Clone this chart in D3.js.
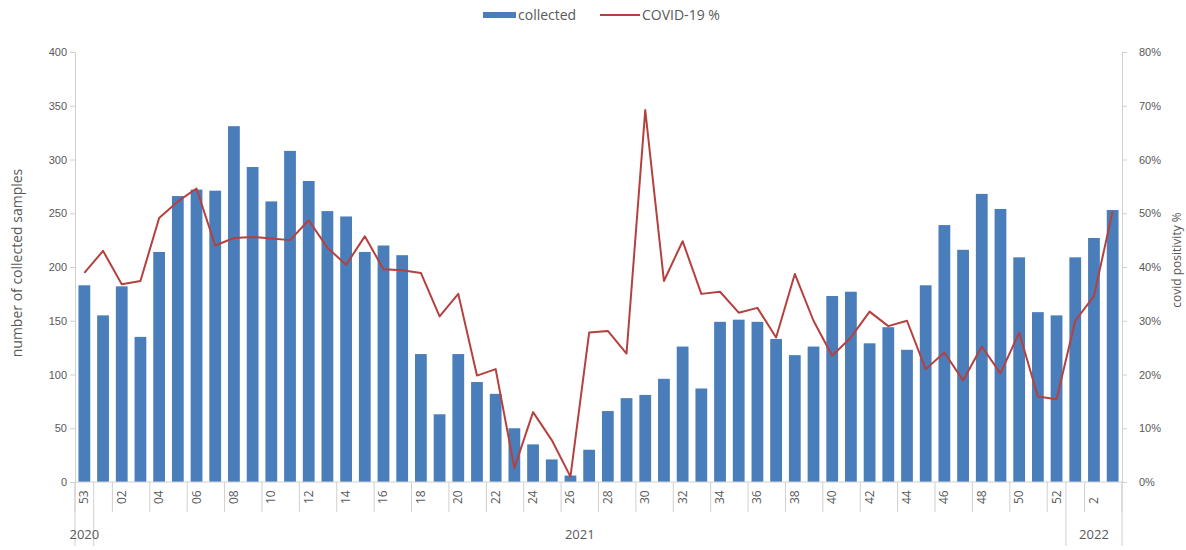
<!DOCTYPE html>
<html>
<head>
<meta charset="utf-8">
<script src="https://cdn.jsdelivr.net/npm/d3@7"></script>
<style>
  html, body { margin: 0; padding: 0; background: #fff; }
  svg { display: block; font-family: "Open Sans", "Liberation Sans", sans-serif; }
</style>
</head>
<body>
<svg id="chart" width="1186" height="550"></svg>
<script>
// ---- data ----
const years = ["2020", "2021", "2022"];
const weeks2020 = ["53"];
const weeks2021 = ["01","02","03","04","05","06","07","08","09","10","11","12","13","14","15","16","17","18","19","20","21","22","23","24","25","26","27","28","29","30","31","32","33","34","35","36","37","38","39","40","41","42","43","44","45","46","47","48","49","50","51","52"];
const weeks2022 = ["1","2","3"];
const collected = [183,155,182,135,214,266,272,271,331,293,261,308,280,252,247,214,220,211,119,63,119,93,82,50,35,21,6,30,66,78,81,96,126,87,149,151,149,133,118,126,173,177,129,144,123,183,239,216,268,254,209,158,155,209,227,253];
const positivity = [38.9,43,36.8,37.4,49.1,52.2,54.6,44,45.4,45.6,45.3,45,48.7,43.6,40.4,45.7,39.6,39.4,38.9,30.8,35,19.8,21,2.6,13,7.8,1,27.8,28.1,23.9,69.2,37.4,44.8,35,35.4,31.5,32.4,26.9,38.7,30,23.5,26.9,31.7,29,30,21,24.1,18.9,25.2,20.2,27.8,15.9,15.4,30,34.6,50.4];
const leftTicks = [0,50,100,150,200,250,300,350,400];
const rightTicks = [0,10,20,30,40,50,60,70,80];

// ---- build categories ----
const cats = [];
weeks2020.forEach(w => cats.push({year: "2020", week: w}));
weeks2021.forEach(w => cats.push({year: "2021", week: w}));
weeks2022.forEach(w => cats.push({year: "2022", week: w}));
cats.forEach((c, i) => { c.id = i; c.n = collected[i]; c.p = positivity[i]; });

const svg = d3.select("#chart");
const m = {left: 75, right: 1122, top: 52, bottom: 482};

const x = d3.scaleBand().domain(cats.map(c => c.id)).range([m.left, m.right]).paddingInner(0.37).paddingOuter(0.185);
const xc = id => x(id) + x.bandwidth() / 2;
const y = d3.scaleLinear().domain([0, 400]).range([m.bottom, m.top]);
const y2 = d3.scaleLinear().domain([0, 80]).range([m.bottom, m.top]);
const boundary = i => m.left + i * (m.right - m.left) / cats.length;

const axisColor = "#d0d0d0";
const textColor = "#595959";

// bars
svg.append("g").selectAll("rect").data(cats).join("rect")
  .attr("x", d => x(d.id)).attr("width", x.bandwidth())
  .attr("y", d => y(d.n)).attr("height", d => y(0) - y(d.n))
  .attr("fill", "#4a7ebb");

// line
const line = d3.line().x(d => xc(d.id)).y(d => y2(d.p));
svg.append("path").datum(cats).attr("d", line)
  .attr("fill", "none").attr("stroke", "#b5413f").attr("stroke-width", 2).attr("stroke-linejoin", "round");

// left axis
const gl = svg.append("g").attr("transform", `translate(${m.left},0)`)
  .call(d3.axisLeft(y).tickValues(leftTicks).tickSize(5).tickPadding(3));
gl.select(".domain").attr("stroke", axisColor);
gl.selectAll(".tick line").attr("stroke", axisColor);
gl.selectAll("text").attr("fill", textColor).style("font-size", "11px");

// right axis
const gr = svg.append("g").attr("transform", `translate(${m.right},0)`)
  .call(d3.axisRight(y2).tickValues(rightTicks).tickFormat(d => d + "%").tickSize(5).tickPadding(12));
gr.select(".domain").attr("stroke", axisColor);
gr.selectAll(".tick line").attr("stroke", axisColor);
gr.selectAll("text").attr("fill", textColor).style("font-size", "11px");

// bottom axis line
svg.append("line").attr("x1", m.left).attr("x2", m.right).attr("y1", m.bottom).attr("y2", m.bottom)
  .attr("stroke", axisColor);

// tick marks every 2 categories
const tickIdx = d3.range(0, cats.length + 1, 2);
svg.append("g").selectAll("line").data(tickIdx).join("line")
  .attr("x1", i => boundary(i)).attr("x2", i => boundary(i))
  .attr("y1", m.bottom).attr("y2", 512)
  .attr("stroke", axisColor);

// group separators
const groupBounds = [0, weeks2020.length, weeks2020.length + weeks2021.length, cats.length];
svg.append("g").selectAll("line").data(groupBounds).join("line")
  .attr("x1", i => boundary(i)).attr("x2", i => boundary(i))
  .attr("y1", m.bottom).attr("y2", 546)
  .attr("stroke", axisColor);

// week labels (every other category)
svg.append("g").selectAll("text").data(cats.filter(c => c.id % 2 === 0)).join("text")
  .attr("transform", d => `translate(${xc(d.id) + 4},${504}) rotate(-90)`)
  .attr("text-anchor", "start")
  .attr("fill", textColor).style("font-size", "12px")
  .text(d => d.week);

// year labels
years.forEach((yr, k) => {
  const cx = (boundary(groupBounds[k]) + boundary(groupBounds[k + 1])) / 2;
  svg.append("text").attr("x", cx).attr("y", 539).attr("text-anchor", "middle")
    .attr("fill", textColor).style("font-size", "13px").text(yr);
});

// axis titles
svg.append("text").attr("transform", `translate(22,263) rotate(-90)`)
  .attr("text-anchor", "middle").attr("fill", textColor).style("font-size", "14px")
  .text("number of collected samples");
svg.append("text").attr("transform", `translate(1181,260) rotate(-90)`)
  .attr("text-anchor", "middle").attr("fill", textColor).style("font-size", "12px")
  .text("covid positivity %");

// legend
const lg = svg.append("g");
lg.append("rect").attr("x", 483).attr("y", 12).attr("width", 33).attr("height", 6).attr("fill", "#4a7ebb");
lg.append("text").attr("x", 518).attr("y", 20).attr("fill", textColor).style("font-size", "14px").text("collected");
lg.append("line").attr("x1", 600).attr("x2", 640).attr("y1", 15).attr("y2", 15).attr("stroke", "#b5413f").attr("stroke-width", 2);
lg.append("text").attr("x", 642).attr("y", 20).attr("fill", textColor).style("font-size", "14px").text("COVID-19 %");
</script>
</body>
</html>
